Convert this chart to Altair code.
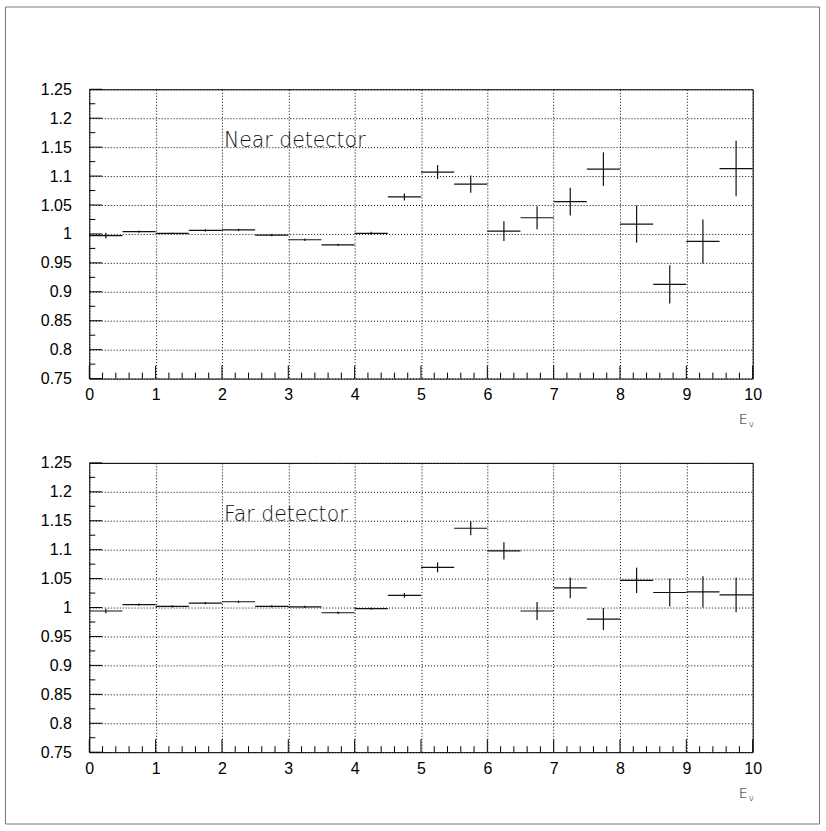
import altair as alt
import pandas as pd

# Energy bins (GeV): lower edge, upper edge, centre
bin_low = [0.0, 0.5, 1.0, 1.5, 2.0, 2.5, 3.0, 3.5, 4.0, 4.5,
           5.0, 5.5, 6.0, 6.5, 7.0, 7.5, 8.0, 8.5, 9.0, 9.5]
bin_high = [0.5, 1.0, 1.5, 2.0, 2.5, 3.0, 3.5, 4.0, 4.5, 5.0,
            5.5, 6.0, 6.5, 7.0, 7.5, 8.0, 8.5, 9.0, 9.5, 10.0]
bin_mid = [0.25, 0.75, 1.25, 1.75, 2.25, 2.75, 3.25, 3.75, 4.25, 4.75,
           5.25, 5.75, 6.25, 6.75, 7.25, 7.75, 8.25, 8.75, 9.25, 9.75]

# Ratio per bin and its statistical error
near_ratio = [0.997, 1.004, 1.001, 1.006, 1.007, 0.998, 0.990, 0.981, 1.001, 1.064,
              1.107, 1.086, 1.005, 1.028, 1.056, 1.112, 1.017, 0.913, 0.987, 1.113]
near_err = [0.005, 0.002, 0.001, 0.002, 0.002, 0.002, 0.002, 0.002, 0.003, 0.006,
            0.012, 0.015, 0.017, 0.020, 0.024, 0.029, 0.032, 0.033, 0.038, 0.048]

far_ratio = [0.994, 1.005, 1.002, 1.0075, 1.010, 1.002, 1.001, 0.991, 0.998, 1.021,
             1.0695, 1.137, 1.098, 0.994, 1.034, 0.980, 1.047, 1.026, 1.027, 1.022]
far_err = [0.004, 0.002, 0.002, 0.002, 0.002, 0.002, 0.002, 0.002, 0.002, 0.004,
           0.0086, 0.012, 0.015, 0.0155, 0.018, 0.019, 0.022, 0.024, 0.027, 0.030]

# Axis tick values
x_major = [0, 1, 2, 3, 4, 5, 6, 7, 8, 9, 10]
x_minor = [i + f for i in range(10) for f in (0.2, 0.4, 0.6, 0.8)]
y_major = [0.75, 0.8, 0.85, 0.9, 0.95, 1.0, 1.05, 1.1, 1.15, 1.2, 1.25]
y_minor = [0.775, 0.825, 0.875, 0.925, 0.975, 1.025, 1.075, 1.125, 1.175, 1.225]

W, H = 665, 290
LABEL_FONT = "Liberation Sans"
TEXT_FONT = "DejaVu Sans"

xs = alt.Scale(domain=[0, 10], nice=False, zero=False)
ys = alt.Scale(domain=[0.75, 1.25], nice=False, zero=False)

x_axis = alt.Axis(values=x_major, grid=True, gridDash=[1, 2], gridColor="black",
                  gridOpacity=1, gridWidth=1, ticks=False, domain=False,
                  labelFlush=False, labelPadding=8, labelFontSize=16,
                  labelFont=LABEL_FONT, labelColor="black", title=None)
y_axis = alt.Axis(values=y_major, grid=True, gridDash=[1, 2], gridColor="black",
                  gridOpacity=1, gridWidth=1, ticks=False, domain=False,
                  labelFlush=False, labelPadding=18, labelFontSize=16,
                  labelFont=LABEL_FONT, labelColor="black", title=None,
                  labelExpr="format(datum.value, '.2~f')")


def panel(ratio, err, label, frame=False):
    df = pd.DataFrame({
        "lo": bin_low, "hi": bin_high, "mid": bin_mid, "v": ratio,
        "vlo": [r - e for r, e in zip(ratio, err)],
        "vhi": [r + e for r, e in zip(ratio, err)],
    })
    base = alt.Chart(df)
    hbar = base.mark_rule(color="#111", strokeWidth=1.2).encode(
        x=alt.X("lo:Q", scale=xs, axis=x_axis), x2="hi:Q",
        y=alt.Y("v:Q", scale=ys, axis=y_axis))
    vbar = base.mark_rule(color="#111", strokeWidth=1.2).encode(
        x=alt.X("mid:Q", scale=xs, axis=x_axis),
        y=alt.Y("vlo:Q", scale=ys, axis=y_axis), y2="vhi:Q")

    def xticks(vals, length):
        return alt.Chart(pd.DataFrame({"t": vals})).mark_rule(
            color="black", strokeWidth=1).encode(
            x=alt.X("t:Q", scale=xs, axis=x_axis),
            y=alt.value(H), y2=alt.value(H - length))

    def yticks(vals, length):
        return alt.Chart(pd.DataFrame({"t": vals})).mark_rule(
            color="black", strokeWidth=1).encode(
            y=alt.Y("t:Q", scale=ys, axis=y_axis),
            x=alt.value(0), x2=alt.value(length))

    lab_df = pd.DataFrame({"x": [2.03], "y": [1.16], "t": [label]})
    txt = alt.Chart(lab_df).mark_text(
        align="left", baseline="middle", font=TEXT_FONT, fontWeight=200,
        fontSize=20.5, color="#111").encode(
        x=alt.X("x:Q", scale=xs, axis=x_axis),
        y=alt.Y("y:Q", scale=ys, axis=y_axis), text="t:N")

    e_txt = alt.Chart(lab_df).mark_text(
        align="left", baseline="alphabetic", font=TEXT_FONT, fontWeight=200,
        fontSize=14.5, color="#111").encode(
        x=alt.value(651), y=alt.value(336), text=alt.value("E"))
    nu_txt = alt.Chart(lab_df).mark_text(
        align="left", baseline="alphabetic", font=TEXT_FONT, fontWeight=200,
        fontSize=9, color="#111").encode(
        x=alt.value(661), y=alt.value(339), text=alt.value("ν"))

    layers = [xticks(x_major, 13), xticks(x_minor, 6),
              yticks(y_major, 13), yticks(y_minor, 6),
              hbar, vbar, txt, e_txt, nu_txt]
    if frame:
        # outer page frame enclosing both panels
        border = alt.Chart(lab_df).mark_rect(
            fill=None, stroke="#777", strokeWidth=1).encode(
            x=alt.value(-84), x2=alt.value(732),
            y=alt.value(-82.5), y2=alt.value(736.5))
        layers.append(border)
    return alt.layer(*layers).properties(width=W, height=H)


top = panel(near_ratio, near_err, "Near detector", frame=True)
bottom = panel(far_ratio, far_err, "Far detector")

chart = alt.vconcat(top, bottom, spacing=84.5, bounds="flush").properties(
    padding={"left": 4.5, "top": 4.5, "right": 5.5, "bottom": 7.5},
    background="white",
).configure_view(stroke="black", strokeWidth=1)

chart.save("out.html", embed_options={"renderer": "svg", "actions": False})
